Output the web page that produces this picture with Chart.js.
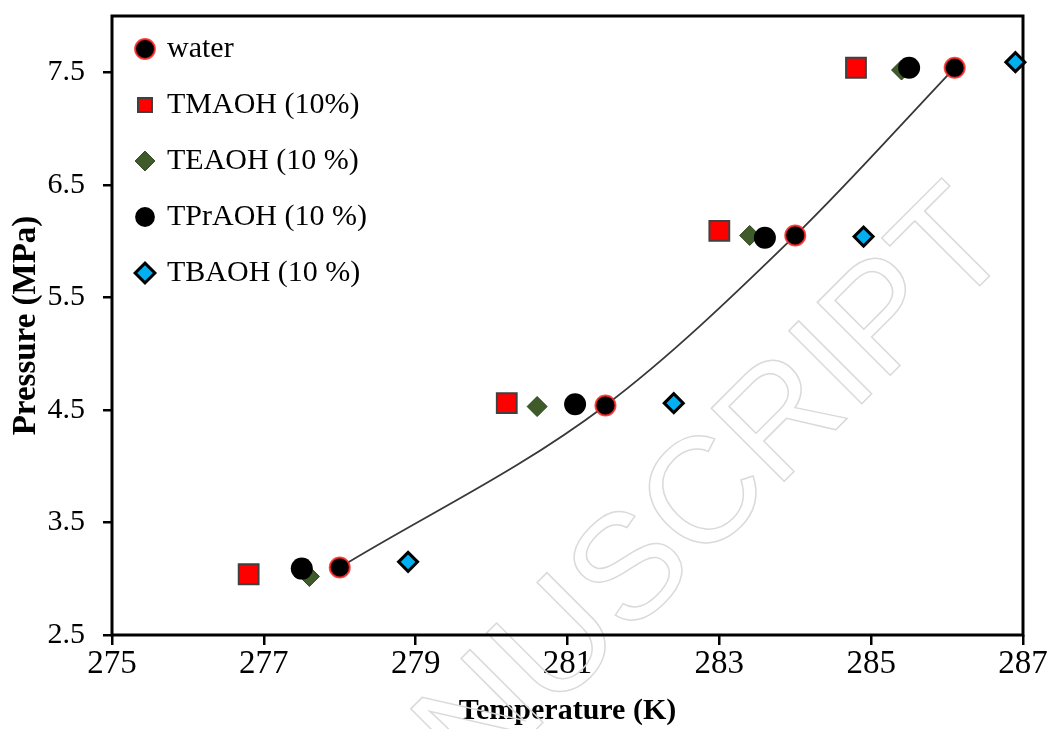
<!DOCTYPE html>
<html>
<head>
<meta charset="utf-8">
<script src="https://cdn.jsdelivr.net/npm/chart.js@4"></script>
<style>
  html, body { margin: 0; padding: 0; background: #fff; }
  #wrap { width: 1049px; height: 729px; }
</style>
</head>
<body>
<div id="wrap"><canvas id="chart"></canvas></div>
<script>
// values
const waterT = [278.0, 281.5, 284.0, 286.1];
const waterP = [3.10, 4.54, 6.05, 7.54];
const tmaohT = [276.8, 280.2, 283.0, 284.8];
const tmaohP = [3.04, 4.56, 6.09, 7.54];
const teaohT = [277.6, 280.6, 283.4, 285.4];
const teaohP = [3.02, 4.53, 6.05, 7.52];
const tpraohT = [277.5, 281.1, 283.6, 285.5];
const tpraohP = [3.09, 4.55, 6.03, 7.54];
const tbaohT = [278.9, 282.4, 284.9, 286.9];
const tbaohP = [3.15, 4.56, 6.04, 7.59];

const seriesNames = ["water", "TMAOH (10%)", "TEAOH (10 %)", "TPrAOH (10 %)", "TBAOH (10 %)"];
const xTicks = [275, 277, 279, 281, 283, 285, 287];
const yTicks = [2.5, 3.5, 4.5, 5.5, 6.5, 7.5];

const pts = (xs, ys) => xs.map((x, i) => ({ x: x, y: ys[i] }));

const serif = "'Liberation Serif', 'Times New Roman', serif";

// box around the plot + faint watermark
const framePlugin = {
  id: "frame",
  beforeDatasetsDraw(chart) {
    const { ctx, chartArea: a } = chart;
    ctx.save();
    // watermark
    ctx.translate(755, 452);
    ctx.rotate(-Math.PI / 4);
    ctx.font = "150px 'Liberation Sans', sans-serif";
    ctx.textBaseline = "middle";
    ctx.strokeStyle = "#dadada";
    ctx.lineWidth = 1.5;
    const pre = "ACCEPTED MAN", mid = "USCRIPT";
    const start = -(ctx.measureText(pre).width + ctx.measureText(mid).width / 2);
    ctx.strokeText(pre + mid, start, 0);
    ctx.restore();

    ctx.save();
    ctx.strokeStyle = "#000";
    ctx.lineWidth = 3;
    ctx.strokeRect(a.left, a.top, a.right - a.left, a.bottom - a.top);
    ctx.restore();
  },
  afterLayout(chart) {
    // place the in-plot legend at the top left of the plot
    const lg = chart.legend;
    if (lg) { lg.top = 8; lg.bottom = lg.top + lg.height; }
  }
};

new Chart(document.getElementById("chart"), {
  type: "scatter",
  data: {
    datasets: [
      {
        label: seriesNames[0],
        data: pts(waterT, waterP),
        pointStyle: "circle",
        pointRadius: 10,
        backgroundColor: "#000",
        borderColor: "rgba(255,40,40,0.85)",
        borderWidth: 2
      },
      {
        label: seriesNames[1],
        data: pts(tmaohT, tmaohP),
        pointStyle: "rect",
        pointRadius: 14,
        backgroundColor: "#ff0000",
        borderColor: "#404040",
        borderWidth: 2
      },
      {
        label: seriesNames[2],
        data: pts(teaohT, teaohP),
        pointStyle: "rectRot",
        pointRadius: 10,
        backgroundColor: "#3e5b29",
        borderColor: "#2c421d",
        borderWidth: 1,
        order: 1
      },
      {
        label: seriesNames[3],
        data: pts(tpraohT, tpraohP),
        pointStyle: "circle",
        pointRadius: 11,
        backgroundColor: "#000",
        borderColor: "#000",
        borderWidth: 0
      },
      {
        label: seriesNames[4],
        data: pts(tbaohT, tbaohP),
        pointStyle: "rectRot",
        pointRadius: 9.5,
        backgroundColor: "#00b0f0",
        borderColor: "#000",
        borderWidth: 3
      },
      {
        // trend curve through the water points
        label: "",
        data: pts(waterT, waterP),
        showLine: true,
        cubicInterpolationMode: "monotone",
        pointRadius: 0,
        borderColor: "#383838",
        borderWidth: 1.8,
        order: 10
      }
    ]
  },
  options: {
    responsive: true,
    maintainAspectRatio: false,
    animation: false,
    events: [],
    clip: false,
    layout: { padding: { top: 15, right: 26, left: 0, bottom: 0 } },
    plugins: {
      tooltip: { enabled: false },
      legend: {
        position: "chartArea",
        align: "start",
        labels: {
          usePointStyle: true,
          boxWidth: 14,
          boxHeight: 14,
          padding: 26,
          color: "#000",
          font: { family: serif, size: 30 },
          filter: (item) => item.text !== "",
          sort: (a, b) => a.datasetIndex - b.datasetIndex
        }
      }
    },
    scales: {
      x: {
        type: "linear",
        min: 275,
        max: 287,
        afterBuildTicks: (s) => { s.ticks = xTicks.map(v => ({ value: v })); },
        afterFit: (s) => { s.height = 94; s.paddingLeft = 0; s.paddingRight = 0; },
        border: { display: false },
        grid: { drawOnChartArea: false, drawTicks: true, tickLength: 10, color: "#000", lineWidth: 2.5 },
        ticks: {
          color: "#000",
          padding: 0,
          font: { family: serif, size: 33 },
          callback: (v) => String(v)
        },
        title: {
          display: true,
          text: "Temperature (K)",
          color: "#000",
          font: { family: serif, size: 30, weight: "bold" },
          padding: { top: 0, bottom: 0 }
        }
      },
      y: {
        type: "linear",
        min: 2.5,
        max: 8,
        afterBuildTicks: (s) => { s.ticks = yTicks.map(v => ({ value: v })); },
        afterFit: (s) => { s.width = 112; s.paddingTop = 0; s.paddingBottom = 0; },
        border: { display: false },
        grid: { drawOnChartArea: false, drawTicks: true, tickLength: 9, color: "#000", lineWidth: 2.5 },
        ticks: {
          color: "#000",
          padding: 18,
          font: { family: serif, size: 30 },
          callback: (v) => Number(v).toFixed(1)
        },
        title: {
          display: true,
          text: "Pressure (MPa)",
          color: "#000",
          font: { family: serif, size: 33, weight: "bold" },
          padding: { top: 7, bottom: 0 }
        }
      }
    }
  },
  plugins: [framePlugin]
});
</script>
</body>
</html>
